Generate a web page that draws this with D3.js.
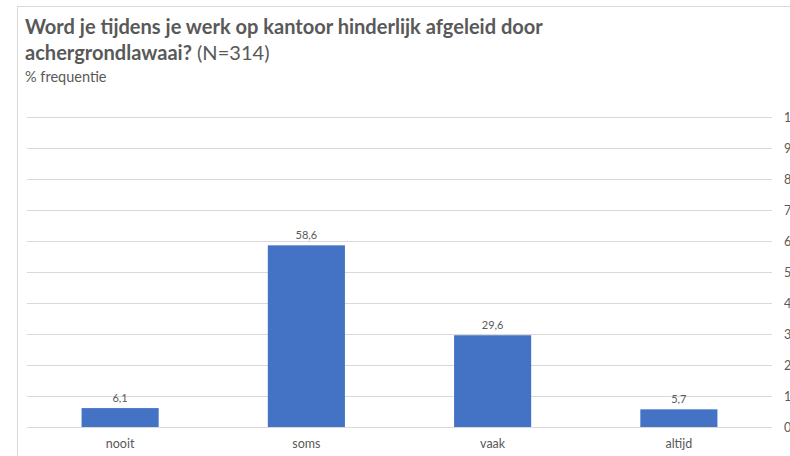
<!DOCTYPE html>
<html>
<head>
<meta charset="utf-8">
<script src="https://cdn.jsdelivr.net/npm/d3@7"></script>
<style>
  html, body { margin: 0; padding: 0; background: #fff; overflow: hidden; }
  svg { display: block; }
  text { font-family: Lato, "Open Sans", "Liberation Sans", sans-serif; }
</style>
</head>
<body>
<svg id="chart" width="790" height="456"></svg>
<script>
// Survey answers and their share in percent
const categories = ["nooit", "soms", "vaak", "altijd"];
const values = [6.1, 58.6, 29.6, 5.7];
const yTicks = [0, 10, 20, 30, 40, 50, 60, 70, 80, 90, 100];

const titleBold = "Word je tijdens je werk op kantoor hinderlijk afgeleid door";
const titleBold2 = "achergrondlawaai?";
const titleNormal2 = " (N=314)";
const subtitle = "% frequentie";

const nl = d3.formatLocale({ decimal: ",", thousands: ".", grouping: [3], currency: ["€", ""] });
const fmt = nl.format(".1f");

const svg = d3.select("#chart");
const W = 790, H = 456;

// outer chart frame
svg.append("rect")
  .attr("x", 17.5).attr("y", 6.5)
  .attr("width", W).attr("height", H)
  .attr("fill", "#fff").attr("stroke", "#d9d9d9").attr("stroke-width", 1);

const plot = { left: 27, right: 772, top: 117, bottom: 427 };

const x = d3.scaleBand()
  .domain(categories)
  .range([plot.left, plot.right])
  .paddingInner(0.586)
  .paddingOuter(0.293);

const y = d3.scaleLinear()
  .domain([0, 100])
  .range([plot.bottom, plot.top]);

// gridlines
svg.append("g").selectAll("line")
  .data(yTicks)
  .join("line")
  .attr("x1", plot.left).attr("x2", plot.right)
  .attr("y1", d => Math.round(y(d)) + 0.5).attr("y2", d => Math.round(y(d)) + 0.5)
  .attr("stroke", "#d9d9d9").attr("stroke-width", 1);

// right-hand value axis (runs past the frame edge)
const yAxis = svg.append("g")
  .attr("transform", `translate(${plot.right},0)`)
  .call(d3.axisRight(y).tickValues(yTicks).tickSize(0).tickPadding(12));
yAxis.select(".domain").remove();
yAxis.selectAll("text")
  .attr("fill", "#595959")
  .style("font-size", "12.5px")
  .style("font-family", "Lato, 'Open Sans', sans-serif");

// bars
svg.append("g").selectAll("rect")
  .data(categories.map((c, i) => ({ c, v: values[i] })))
  .join("rect")
  .attr("x", d => x(d.c))
  .attr("width", x.bandwidth())
  .attr("y", d => y(d.v))
  .attr("height", d => y(0) - y(d.v))
  .attr("fill", "#4472c4");

// data labels
svg.append("g").selectAll("text")
  .data(categories.map((c, i) => ({ c, v: values[i] })))
  .join("text")
  .attr("x", d => x(d.c) + x.bandwidth() / 2)
  .attr("y", d => y(d.v) - 6)
  .attr("text-anchor", "middle")
  .attr("fill", "#595959")
  .style("font-size", "11px")
  .text(d => fmt(d.v));

// category axis
const xAxis = svg.append("g")
  .attr("transform", `translate(0,${plot.bottom})`)
  .call(d3.axisBottom(x).tickSize(0).tickPadding(12));
xAxis.select(".domain").remove();
xAxis.selectAll("text")
  .attr("fill", "#595959")
  .style("font-size", "12.5px")
  .style("font-family", "Lato, 'Open Sans', sans-serif");

// titles
const t1 = svg.append("text")
  .attr("x", 25).attr("y", 34)
  .attr("fill", "#595959")
  .style("font-size", "18px").style("font-weight", "bold")
  .text(titleBold);
// fit first title line to its intended width
const target = 518;
const w1 = t1.node().getComputedTextLength();
const fs = 18 * target / w1;
t1.style("font-size", fs + "px");

const t2 = svg.append("text")
  .attr("x", 25).attr("y", 60)
  .attr("fill", "#595959")
  .style("font-size", fs + "px");
t2.append("tspan").style("font-weight", "bold").text(titleBold2);
t2.append("tspan").style("font-weight", "normal").text(titleNormal2);

svg.append("text")
  .attr("x", 25).attr("y", 82)
  .attr("fill", "#595959")
  .style("font-size", "14.5px")
  .text(subtitle);
</script>
</body>
</html>
